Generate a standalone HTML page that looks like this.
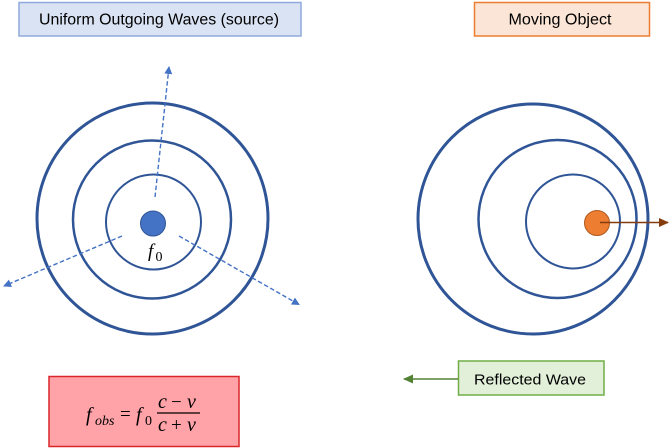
<!DOCTYPE html>
<html><head><meta charset="utf-8">
<style>
html,body{margin:0;padding:0;background:#fff;}
svg{display:block;}
</style></head>
<body>
<svg width="669" height="448" viewBox="0 0 669 448" xmlns="http://www.w3.org/2000/svg">
  <defs>
    <marker id="ab" markerWidth="8" markerHeight="8" refX="7" refY="4" orient="auto" markerUnits="userSpaceOnUse">
      <path d="M0,0 L8,4 L0,8 Z" fill="#4472c4"/>
    </marker>
    <marker id="abr" markerWidth="10" markerHeight="9" refX="9" refY="4.5" orient="auto" markerUnits="userSpaceOnUse">
      <path d="M0,0 L10,4.5 L0,9 Z" fill="#843c0c"/>
    </marker>
    <marker id="abg" markerWidth="10" markerHeight="9" refX="9" refY="4.5" orient="auto" markerUnits="userSpaceOnUse">
      <path d="M0,0 L10,4.5 L0,9 Z" fill="#548235"/>
    </marker>
  </defs>

  <!-- Title boxes -->
  <rect x="19" y="2.5" width="282" height="33.5" fill="#dae3f3" stroke="#8faadc" stroke-width="1.5"/>
  <text x="159" y="24.5" font-family="Liberation Sans, sans-serif" font-size="15.5" fill="#000" text-anchor="middle" textLength="240" lengthAdjust="spacingAndGlyphs">Uniform Outgoing Waves (source)</text>

  <rect x="474.5" y="2.5" width="175" height="33.5" fill="#fbe5d6" stroke="#ed7d31" stroke-width="1.5"/>
  <text x="560" y="24.5" font-family="Liberation Sans, sans-serif" font-size="15.5" fill="#000" text-anchor="middle" textLength="103" lengthAdjust="spacingAndGlyphs">Moving Object</text>

  <!-- Left circles -->
  <circle cx="152.5" cy="218.5" r="115.5" fill="none" stroke="#2f5597" stroke-width="3"/>
  <circle cx="152" cy="219.5" r="79" fill="none" stroke="#2f5597" stroke-width="2.5"/>
  <circle cx="153.5" cy="222" r="47.5" fill="none" stroke="#2f5597" stroke-width="2"/>
  <circle cx="153" cy="223.5" r="12.5" fill="#4472c4" stroke="#2f5597" stroke-width="1"/>
  <text x="148" y="257" font-family="Liberation Serif, serif" font-style="italic" font-size="19" fill="#000">f</text>
  <text x="155.5" y="261" font-family="Liberation Serif, serif" font-size="14" fill="#000">0</text>

  <!-- Dashed arrows -->
  <line x1="155" y1="197" x2="169" y2="67" stroke="#4472c4" stroke-width="1.4" stroke-dasharray="4.5,2.5" marker-end="url(#ab)"/>
  <line x1="122" y1="236" x2="4" y2="286" stroke="#4472c4" stroke-width="1.4" stroke-dasharray="4.5,2.5" marker-end="url(#ab)"/>
  <line x1="179" y1="236" x2="299" y2="304.5" stroke="#4472c4" stroke-width="1.4" stroke-dasharray="4.5,2.5" marker-end="url(#ab)"/>

  <!-- Right circles -->
  <circle cx="533" cy="219" r="115" fill="none" stroke="#2f5597" stroke-width="3"/>
  <circle cx="557.5" cy="219" r="79" fill="none" stroke="#2f5597" stroke-width="2.5"/>
  <circle cx="573" cy="221.5" r="47" fill="none" stroke="#2f5597" stroke-width="2"/>
  <circle cx="597" cy="223" r="12.5" fill="#ed7d31" stroke="#ae5a21" stroke-width="1"/>
  <line x1="600" y1="222.5" x2="668" y2="222.5" stroke="#843c0c" stroke-width="1.5" marker-end="url(#abr)"/>

  <!-- Reflected wave -->
  <rect x="458.5" y="361" width="145.5" height="34" fill="#e2f0d9" stroke="#70ad47" stroke-width="1.5"/>
  <text x="530" y="384.5" font-family="Liberation Sans, sans-serif" font-size="15" fill="#000" text-anchor="middle" textLength="112" lengthAdjust="spacingAndGlyphs">Reflected Wave</text>
  <line x1="458" y1="379" x2="404" y2="379" stroke="#548235" stroke-width="1.5" marker-end="url(#abg)"/>

  <!-- Formula box -->
  <rect x="49" y="376.5" width="190" height="70" fill="#ffa3a8" stroke="#d9262b" stroke-width="1.5"/>
  <g font-family="Liberation Serif, serif" fill="#000">
    <text x="86" y="421" font-style="italic" font-size="20">f</text>
    <text x="95" y="425" font-style="italic" font-size="14">obs</text>
    <text x="120" y="420" font-size="19">=</text>
    <text x="136" y="421" font-style="italic" font-size="20">f</text>
    <text x="145" y="425" font-size="14">0</text>
    <text x="158" y="408" font-style="italic" font-size="20">c</text>
    <text x="171" y="408" font-size="19">−</text>
    <text x="187" y="408" font-style="italic" font-size="20">v</text>
    <line x1="157" y1="413" x2="200" y2="413" stroke="#000" stroke-width="1.2"/>
    <text x="158" y="431" font-style="italic" font-size="20">c</text>
    <text x="171" y="431" font-size="19">+</text>
    <text x="187" y="431" font-style="italic" font-size="20">v</text>
  </g>
</svg>
</body></html>
